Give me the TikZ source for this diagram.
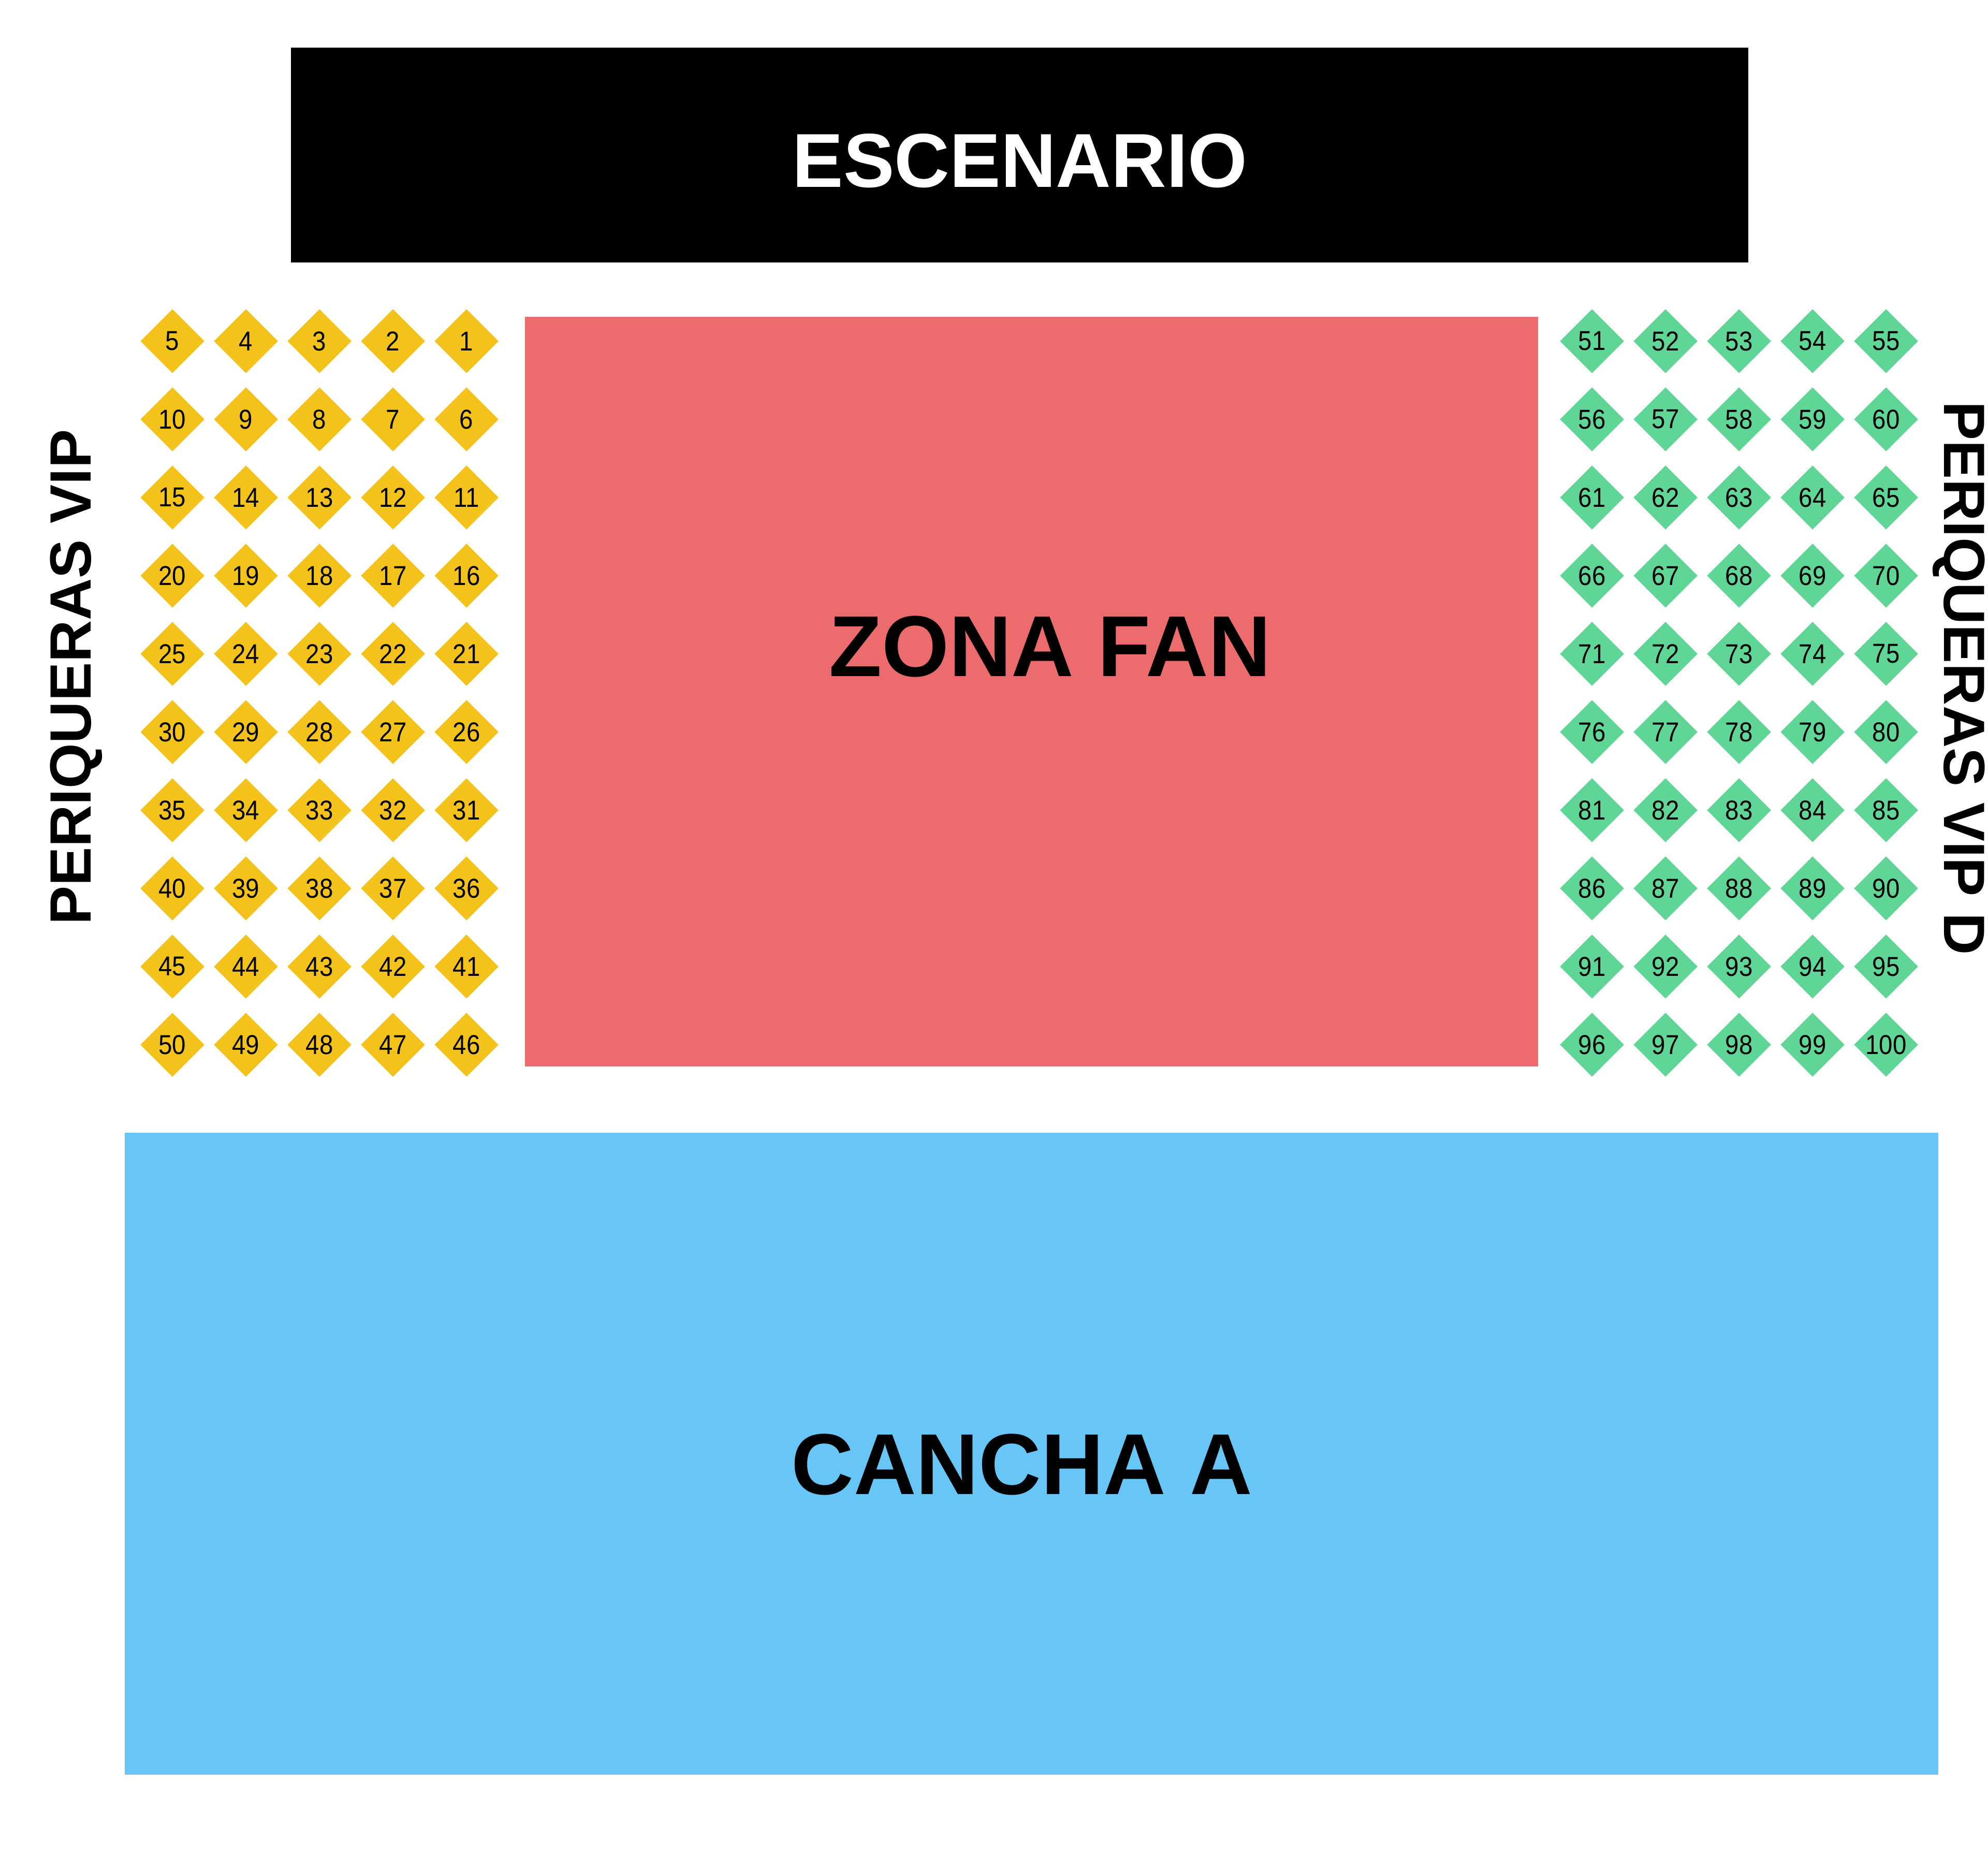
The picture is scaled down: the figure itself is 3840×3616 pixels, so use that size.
\documentclass[tikz,border=0pt]{standalone}
\usepackage{fontspec}
\setmainfont{Liberation Sans}
\newfontfamily\seatfont[FakeStretch=0.9]{Liberation Sans}
\usetikzlibrary{math}
\usetikzlibrary{shapes.geometric}

\definecolor{SeatYellow}{HTML}{F3C31B}
\definecolor{SeatGreen}{HTML}{5FD596}
\definecolor{ZonaRed}{HTML}{EC6B6C}
\definecolor{CanchaBlue}{HTML}{68C6F7}

\tikzset{
	seat/.style={diamond, aspect=1, inner sep=0pt,
		minimum width=1.24cm, minimum height=1.24cm,
		font=\seatfont\fontsize{15}{15}\selectfont},
	zonelabel/.style={font=\bfseries\fontsize{47.5}{50}\selectfont},
	sidelabel/.style={font=\bfseries\fontsize{32}{34}\selectfont},
}

\begin{document}
\begin{tikzpicture}[x=0.01cm, y=-0.01cm]
	\useasboundingbox (0,0) rectangle (3840,3616);
	
	% escenario
	\fill[black] (562,92) rectangle (3377,507);
	\node[zonelabel, text=white, font=\bfseries\fontsize{42}{44}\selectfont] (escenario) at (1970,311) {ESCENARIO};
	
	% zonas
	\fill[ZonaRed] (1014,612) rectangle (2971,2060);
	\node[zonelabel] (zonafan) at (2028,1249) {ZONA FAN};
	\fill[CanchaBlue] (241,2188) rectangle (3744,3428);
	\node[zonelabel] (cancha) at (1974,2829) {CANCHA A};
	
	\node[sidelabel, rotate=90] (vipizq) at (147,1308) {PERIQUERAS VIP};
	\node[sidelabel, rotate=-90] (vipder) at (3784,1310) {PERIQUERAS VIP D};
	
	% periqueras: 5 x 10 por lado
	\foreach \r in {0,...,9} \foreach \c in {0,...,4} {
		\tikzmath{int \seatL, \seatR; \seatL = 5*\r + 5 - \c; \seatR = 51 + 5*\r + \c;}
		\node[seat, fill=SeatYellow] (s\seatL) at ({333+142*\c}, {659+151*\r}) {\seatL};
		\node[seat, fill=SeatGreen] (s\seatR) at ({3075+142*\c}, {659+151*\r}) {\seatR};
	}
\end{tikzpicture}
\end{document}
